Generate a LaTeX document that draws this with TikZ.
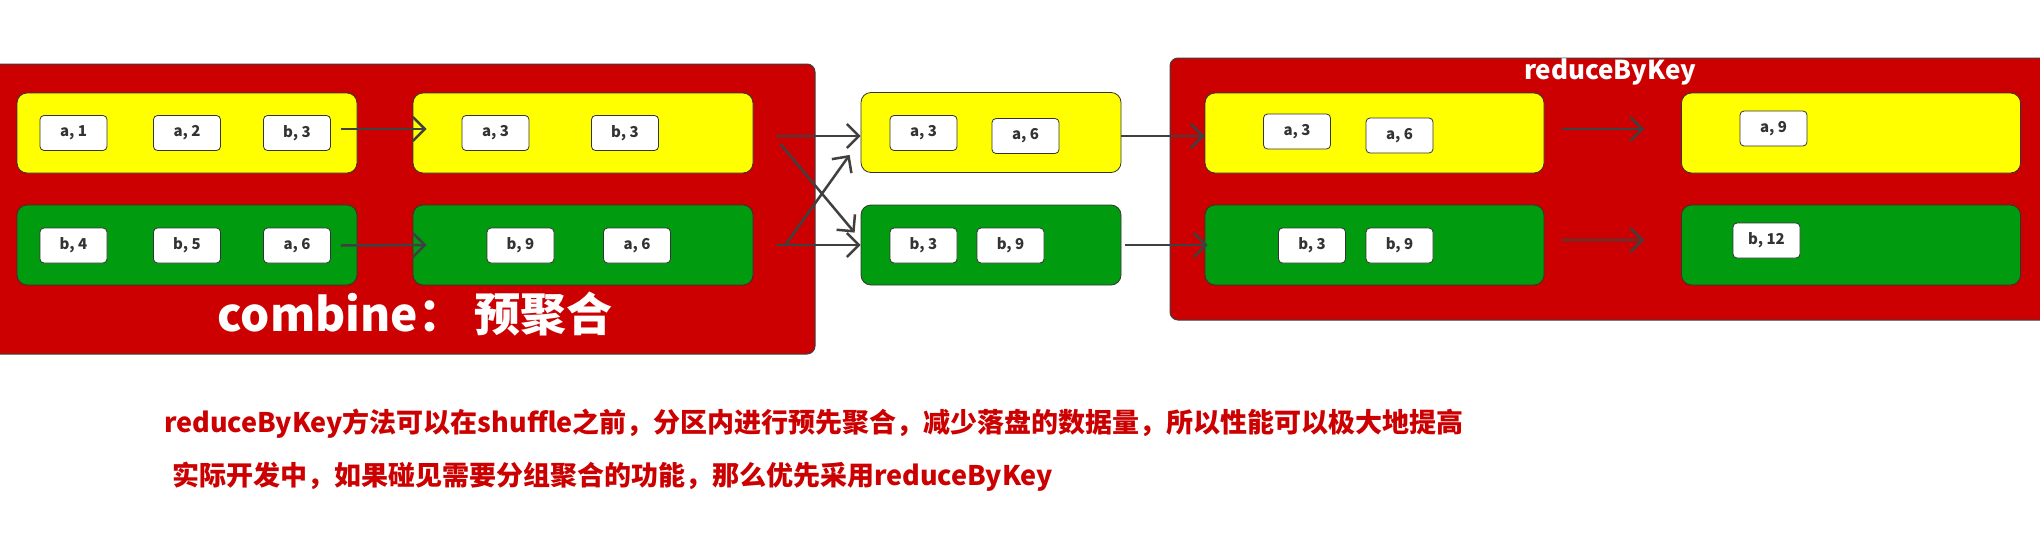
\documentclass[tikz,border=0pt]{standalone}
\usepackage{fontspec}
\setmainfont{Noto Sans CJK SC}
\usetikzlibrary{arrows.meta}
\usetikzlibrary{calc}

\definecolor{stagered}{RGB}{204,0,0}
\definecolor{partyellow}{RGB}{255,255,0}
\definecolor{partgreen}{RGB}{0,155,14}
\definecolor{linegray}{RGB}{64,64,64}
\definecolor{textgray}{RGB}{51,51,51}

\begin{document}
\begin{tikzpicture}[x=1pt, y=-1pt,
	stage/.style={draw=linegray, line width=1pt, fill=stagered, rounded corners=8pt, inner sep=0pt},
	part/.style={draw=textgray, line width=0.8pt, rounded corners=10pt, inner sep=0pt, minimum width=340pt, minimum height=80pt},
	ypart/.style={part, fill=partyellow},
	gpart/.style={part, fill=partgreen},
	pair/.style={draw=textgray, line width=0.8pt, fill=white, rounded corners=4pt, inner sep=0pt, minimum width=67pt, minimum height=35pt, text=textgray, font=\bfseries\fontsize{15pt}{15pt}\selectfont},
	flow/.style={draw=linegray, line width=2.5pt, -{Straight Barb[length=12pt, width=24pt]}}]

				\fill[white] (0,0) rectangle (2040,533);
				\useasboundingbox (0,0) rectangle (2040,533);

				% the two stages
				\node[stage, minimum width=835pt, minimum height=290pt] at (397.5,209) (combine_stage) {};
				\node[stage, minimum width=890pt, minimum height=262pt] at (1615,189) (reduce_stage) {};

				\node[text=white, font=\bfseries\fontsize{46pt}{46pt}\selectfont] at (415,314) (combine_title) {combine：\ 预聚合};
				\node[text=white, font=\bfseries\fontsize{26pt}{26pt}\selectfont] at (1610,72) (reduce_title) {reduceByKey};

				% partitions before combine
				\node[ypart] at (187,133) (in_yellow) {};
				\node[gpart] at (187,245) (in_green) {};
				\node[pair] at (73.5,133) (in_a1) {a, 1};
				\node[pair] at (187,133) (in_a2) {a, 2};
				\node[pair] at (297,133) (in_b3) {b, 3};
				\node[pair] at (73.5,245.5) (in_b4) {b, 4};
				\node[pair] at (187,245.5) (in_b5) {b, 5};
				\node[pair] at (297,245.5) (in_a6) {a, 6};

				% partitions after combine
				\node[ypart] at (583,133) (comb_yellow) {};
				\node[gpart] at (583,245) (comb_green) {};
				\node[pair] at (495.5,133) (comb_a3) {a, 3};
				\node[pair] at (625,133) (comb_b3) {b, 3};
				\node[pair] at (520.5,245.5) (comb_b9) {b, 9};
				\node[pair] at (637,245.5) (comb_a6) {a, 6};

				% after shuffle
				\node[ypart, minimum width=260pt] at (991,132.5) (shuf_yellow) {};
				\node[gpart, minimum width=260pt] at (991,245) (shuf_green) {};
				\node[pair] at (923.5,133) (shuf_a3) {a, 3};
				\node[pair] at (1025.5,136) (shuf_a6) {a, 6};
				\node[pair] at (923.5,245.5) (shuf_b3) {b, 3};
				\node[pair] at (1010.5,245.5) (shuf_b9) {b, 9};

				% inside reduceByKey
				\node[ypart, minimum width=339pt] at (1374.5,133) (red_yellow) {};
				\node[gpart, minimum width=339pt] at (1374.5,245) (red_green) {};
				\node[pair] at (1297,131.5) (red_a3) {a, 3};
				\node[pair] at (1399.5,135.5) (red_a6) {a, 6};
				\node[pair] at (1312,245.5) (red_b3) {b, 3};
				\node[pair] at (1399.5,245.5) (red_b9) {b, 9};

				\node[ypart, minimum width=339pt] at (1851,133) (out_yellow) {};
				\node[gpart, minimum width=339pt] at (1851,245) (out_green) {};
				\node[pair] at (1773.5,128.5) (out_a9) {a, 9};
				\node[pair] at (1766.5,240.5) (out_b12) {b, 12};

				% connectors
				\draw[flow] ([xshift=10pt, yshift=4pt]in_b3.east) -- ([xshift=14pt, yshift=4pt]comb_yellow.west);
				\draw[flow] ([xshift=10pt]in_a6.east) -- ([xshift=14pt]comb_green.west);

				\draw[flow] ([xshift=23pt, yshift=-3pt]comb_yellow.east) -- ([yshift=-3.5pt]shuf_yellow.west);
				\draw[flow] ([xshift=27pt, yshift=-11pt]comb_yellow.east) -- ([xshift=-6pt, yshift=-28pt]shuf_green.north west);
				\draw[flow] ([xshift=32pt]comb_green.east) -- ([xshift=-11pt, yshift=18pt]shuf_yellow.south west);
				\draw[flow] ([xshift=23pt]comb_green.east) -- (shuf_green.west);

				\draw[flow] ([yshift=-3.5pt]shuf_yellow.east) -- ([yshift=-3pt]red_yellow.west);
				\draw[flow] ([xshift=4pt]shuf_green.east) -- ([xshift=3pt]red_green.west);

				\draw[flow] ([xshift=18pt, yshift=4pt]red_yellow.east) -- ([xshift=-37pt, yshift=4pt]out_yellow.west);
				\draw[flow] ([xshift=18pt, yshift=5pt]red_green.east) -- ([xshift=-37pt, yshift=5pt]out_green.west);

				% notes
				\node[anchor=west, inner sep=0pt, text=stagered, font=\bfseries\fontsize{27pt}{27pt}\selectfont] at (164,424) (note_one) {reduceByKey方法可以在shuffle之前，分区内进行预先聚合，减少落盘的数据量，所以性能可以极大地提高};
				\node[anchor=west, inner sep=0pt, text=stagered, font=\bfseries\fontsize{27pt}{27pt}\selectfont] at (172,477) (note_two) {实际开发中，如果碰见需要分组聚合的功能，那么优先采用reduceByKey};
			\end{tikzpicture}
\end{document}
